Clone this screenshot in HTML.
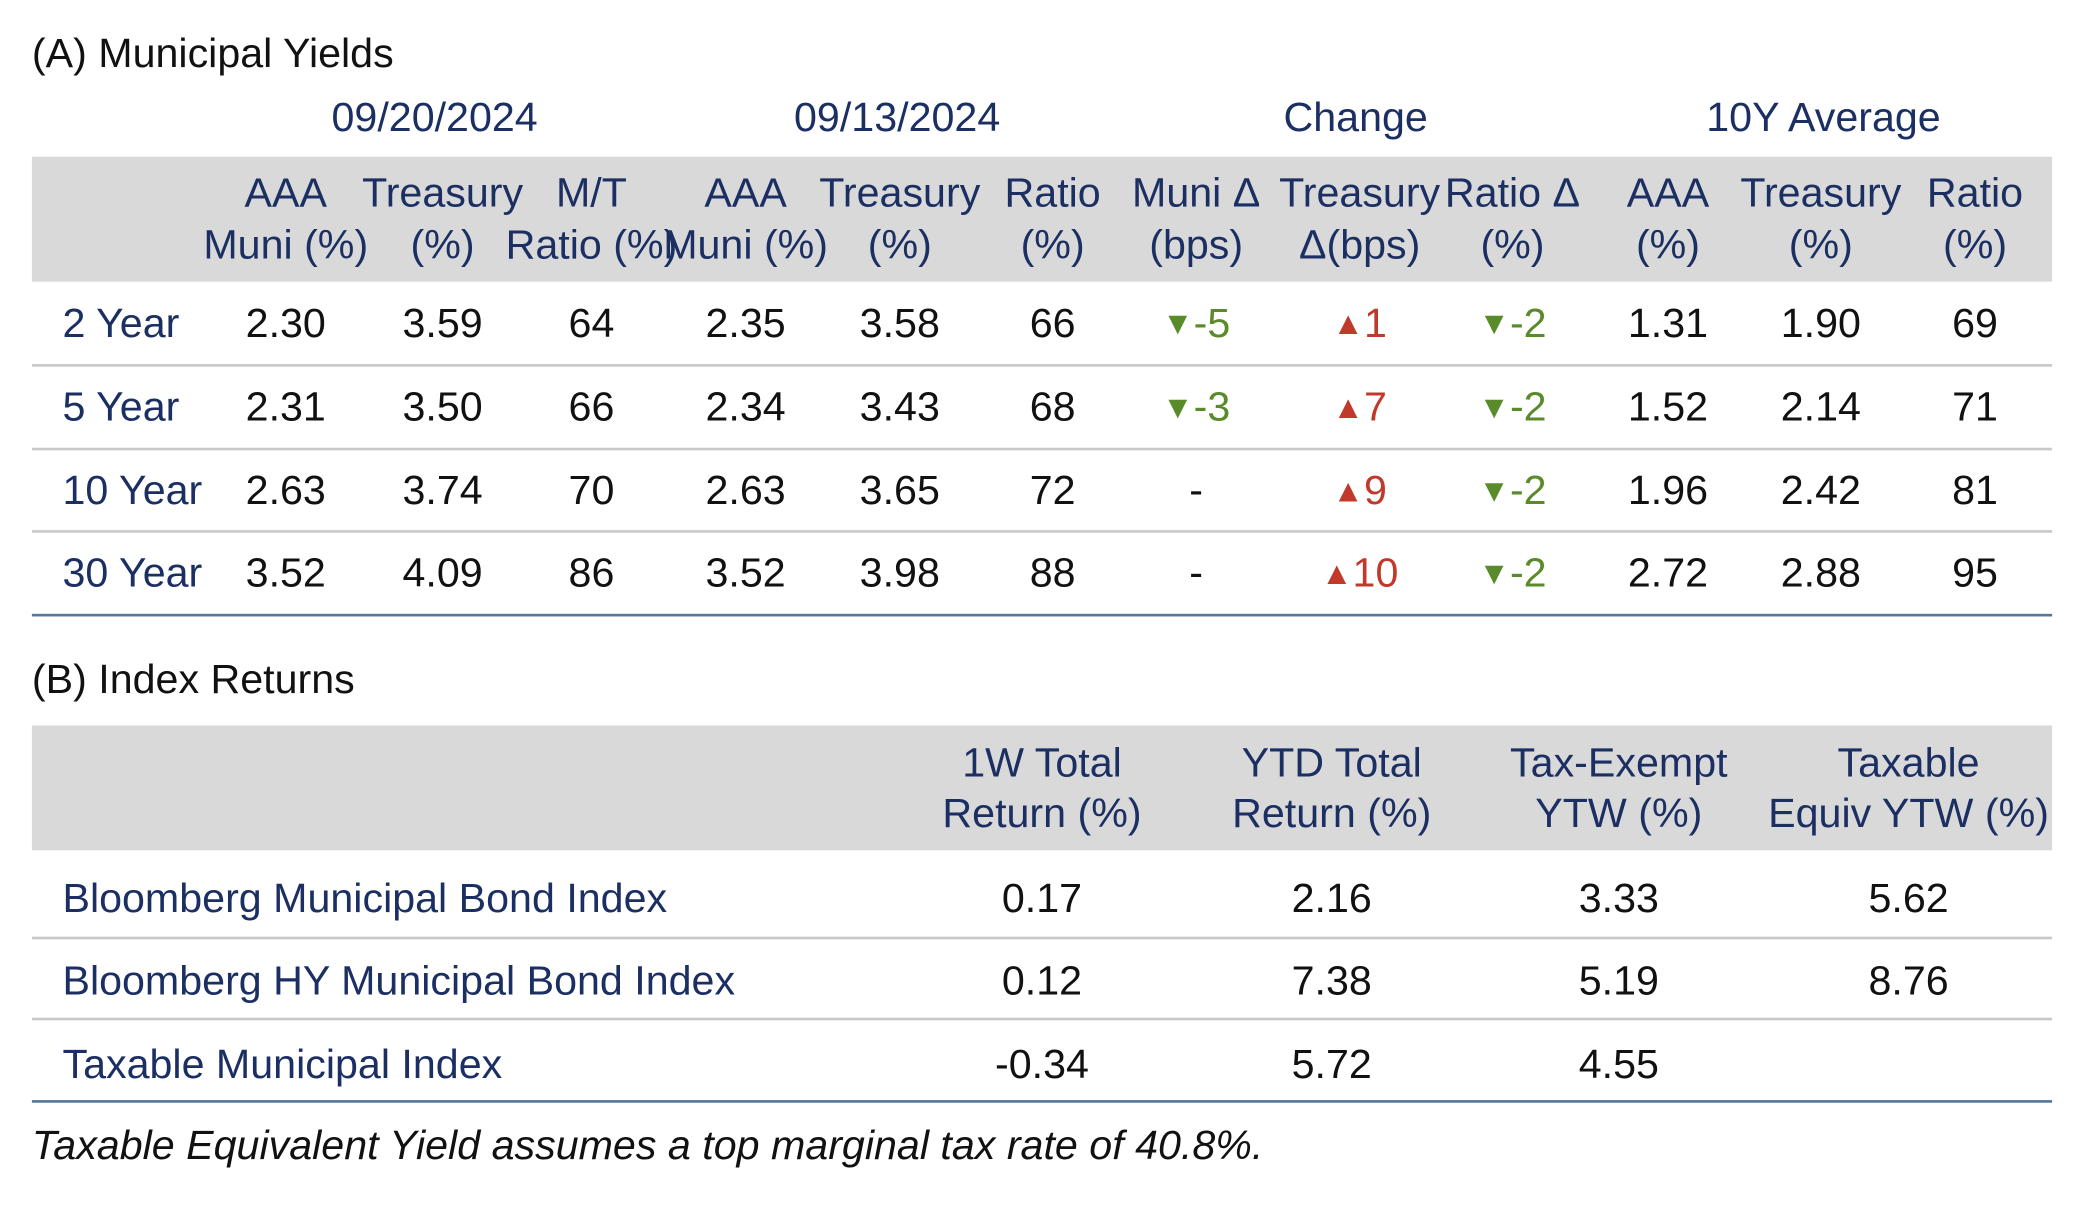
<!DOCTYPE html>
<html><head><meta charset="utf-8">
<style>
html,body{margin:0;padding:0;background:#fff;}
#wrap{position:relative;width:2084px;height:1209px;overflow:hidden;}
#c{position:absolute;left:0;top:0;width:1568px;height:910px;transform:scale(1.32908,1.3286);transform-origin:0 0;
 font-family:"Liberation Sans Narrow","Liberation Sans",sans-serif;font-size:31px;color:#111;}
.t{position:absolute;white-space:nowrap;line-height:1;}
.ctr{transform:translate(-50%,-50%);}
.lft{transform:translate(0,-50%);}
.navy{color:#1b2f63;}
.gray{position:absolute;background:#d9d9d9;}
.line{position:absolute;height:2px;background:#c9c9c9;}
.blue{position:absolute;height:2px;background:#56789a;}
.dn{color:#5a8b2a;} .up{color:#c0392b;}
.tri{font-size:24px;vertical-align:2px;}
</style></head>
<body>
<div id="wrap">
<div id="c">
<div class="t lft" style="left:24px;top:40px;">(A) Municipal Yields</div>
<div class="gray" style="left:24px;top:118px;width:1520px;height:94px;"></div>
<div class="line" style="left:24px;top:274px;width:1520px;"></div>
<div class="line" style="left:24px;top:337px;width:1520px;"></div>
<div class="line" style="left:24px;top:399px;width:1520px;"></div>
<div class="blue" style="left:24px;top:462px;width:1520px;"></div>
<div class="t lft" style="left:24px;top:511px;">(B) Index Returns</div>
<div class="gray" style="left:24px;top:546px;width:1520px;height:94px;"></div>
<div class="line" style="left:24px;top:705px;width:1520px;"></div>
<div class="line" style="left:24px;top:766px;width:1520px;"></div>
<div class="blue" style="left:24px;top:828px;width:1520px;"></div>
<div class="t lft" style="left:24px;top:862px;font-style:italic;">Taxable Equivalent Yield assumes a top marginal tax rate of 40.8%.</div>
</div></div>
<script>
const groupHeaders=["09/20/2024","09/13/2024","Change","10Y Average"];
const groupX=[327,675,1020,1372];
const colHead1=["AAA","Treasury","M/T","AAA","Treasury","Ratio","Muni Δ","Treasury","Ratio Δ","AAA","Treasury","Ratio"];
const colHead2=["Muni (%)","(%)","Ratio (%)","Muni (%)","(%)","(%)","(bps)","Δ(bps)","(%)","(%)","(%)","(%)"];
const colX=[215,333,445,561,677,792,900,1023,1138,1255,1370,1486];
const tenors=["2 Year","5 Year","10 Year","30 Year"];
const rowY=[243,306,369,431];
const yieldRows=[
 ["2.30","3.59","64","2.35","3.58","66",-5,1,-2,"1.31","1.90","69"],
 ["2.31","3.50","66","2.34","3.43","68",-3,7,-2,"1.52","2.14","71"],
 ["2.63","3.74","70","2.63","3.65","72",0,9,-2,"1.96","2.42","81"],
 ["3.52","4.09","86","3.52","3.98","88",0,10,-2,"2.72","2.88","95"]];
const idxNames=["Bloomberg Municipal Bond Index","Bloomberg HY Municipal Bond Index","Taxable Municipal Index"];
const idxY=[676,738,801];
const idxHead1=["1W Total","YTD Total","Tax-Exempt","Taxable"];
const idxHead2=["Return (%)","Return (%)","YTW (%)","Equiv YTW (%)"];
const idxX=[784,1002,1218,1436];
const idxRows=[["0.17","2.16","3.33","5.62"],["0.12","7.38","5.19","8.76"],["-0.34","5.72","4.55",""]];
const c=document.getElementById('c');
function txt(s,x,y,cls,name){const d=document.createElement('div');d.className='t '+cls;d.style.left=x+'px';d.style.top=y+'px';d.innerHTML=s;


c.appendChild(d);return d;}
groupHeaders.forEach((g,i)=>txt(g,groupX[i],88,'ctr navy','group-header'));
colHead1.forEach((h,i)=>{txt(h,colX[i],145,'ctr navy','column-header');txt(colHead2[i],colX[i],184,'ctr navy','column-header-unit');});
tenors.forEach((t,r)=>{
 txt(t,47,rowY[r],'lft navy','tenor-label');
 yieldRows[r].forEach((v,k)=>{
  let s=v;
  if(typeof v==='number'){
   if(v===0) s='-';
   else if(v<0) s='<span class="dn"><span class="tri">▼</span>'+v+'</span>';
   else s='<span class="up"><span class="tri">▲</span>'+v+'</span>';
  }
  txt(s,colX[k],rowY[r],'ctr','yield-cell');
 });
});
idxHead1.forEach((h,i)=>{txt(h,idxX[i],574,'ctr navy','index-column-header');txt(idxHead2[i],idxX[i],612,'ctr navy','index-column-header-unit');});
idxNames.forEach((n,r)=>{
 txt(n,47,idxY[r],'lft navy','index-name');
 idxRows[r].forEach((v,k)=>{if(v!=='')txt(v,idxX[k],idxY[r],'ctr','index-return-cell');});
});
</script>
</body></html>
